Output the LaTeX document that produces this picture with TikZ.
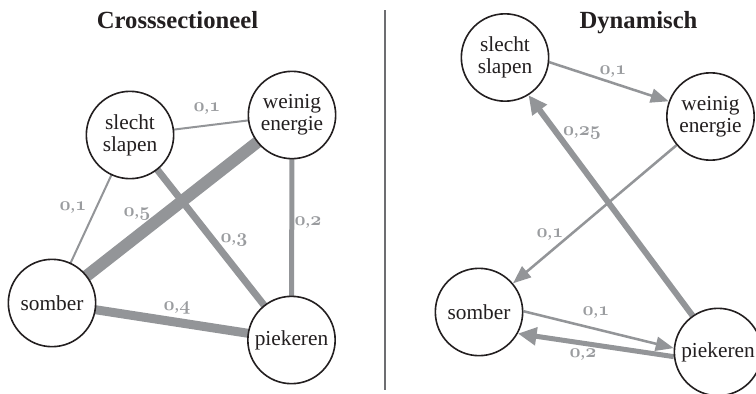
\documentclass[tikz,border=0pt]{standalone}
\usepackage{fontspec}
\setmainfont{Liberation Serif}
\usetikzlibrary{arrows.meta,backgrounds}
\definecolor{edgegray}{HTML}{939598}
\definecolor{labgray}{HTML}{9A9C9F}
\definecolor{ink}{HTML}{231F20}
\definecolor{divgray}{HTML}{6D6E71}
\newcommand\osd[1]{{\usefont{OML}{cmm}{b}{it}#1}}
\newcommand\wt[2]{\osd{#1},\osd{#2}}
\begin{document}
\begin{tikzpicture}[x=0.75pt,y=-0.75pt,
  state/.style={circle,draw=ink,line width=1.2pt,fill=white,minimum size=65.5pt,inner sep=0pt,
    align=center,text=ink,font=\fontsize{16}{16.5}\selectfont},
  paneltitle/.style={anchor=base,text=ink,font=\bfseries\fontsize{18.5}{20}\selectfont},
  wlab/.style={text=labgray,font=\fontsize{14}{16}\selectfont,inner sep=0pt},
  edge/.style={draw=edgegray,line cap=butt},
  thinarrow/.style={edge,line width=1.9pt,-{Triangle[length=13.5pt,width=10.5pt]}},
  thickarrow/.style={edge,-{Triangle[length=14pt,width=13pt]}}
]
\useasboundingbox (0,0) rectangle (756,393);

% titles
\node[paneltitle] (t1) at (177.5,28) {Crosssectioneel};
\node[paneltitle] (t2) at (638.5,28) {Dynamisch};

% divider
\coordinate (d1) at (385,10);
\coordinate (d2) at (385,390);
\draw[divgray,line width=1.1pt] (d1) -- (d2);

% left panel nodes
\node[state] (LS) at (130,135) {slecht\\slapen};
\node[state] (LW) at (292,115) {weinig\\energie};
\node[state] (LB) at (52,303) {somber};
\node[state] (LP) at (291.5,340) {piekeren};

% right panel nodes
\node[state] (RS) at (505,57.5) {slecht\\slapen};
\node[state] (RW) at (710.5,116.5) {weinig\\energie};
\node[state] (RB) at (479,312) {somber};
\node[state] (RP) at (718,352) {piekeren};

\begin{scope}[on background layer]
  % left undirected edges
  \draw[edge,line width=1.5pt] (LS.center) -- (LW.center);
  \draw[edge,line width=1.5pt] (LS.center) -- (LB.center);
  \draw[edge,line width=9pt] (LW.center) -- (LB.center);
  \draw[edge,line width=5.25pt] (LS.center) -- (LP.center);
  \draw[edge,line width=3.75pt] (LW.center) -- (LP.center);
  \draw[edge,line width=6.75pt] (LB.center) -- (LP.center);
  % right directed edges
  \draw[thinarrow] (RS.-6) -- (RW.160);
  \draw[thinarrow] (RW) -- (RB);
  \draw[thickarrow,line width=4.5pt] (RP.125) -- (RS.-58);
  \draw[thinarrow] (RB.1) -- (RP.175);
  \draw[thickarrow,line width=3.75pt] (RP.186) -- (RB.-29);
\end{scope}

% weight labels left
\node[wlab] (l1) at (207,109) {\wt{0}{1}};
\node[wlab] (l2) at (73,208) {\wt{0}{1}};
\node[wlab] (l3) at (137,214) {\wt{0}{5}};
\node[wlab] (l4) at (234,240) {\wt{0}{3}};
\node[wlab] (l5) at (308,223) {\wt{0}{2}};
\node[wlab] (l6) at (177,308) {\wt{0}{4}};

% weight labels right
\node[wlab] (r1) at (613,72) {\wt{0}{1}};
\node[wlab] (r2) at (582,133) {\wt{0}{25}};
\node[wlab] (r3) at (550,235) {\wt{0}{1}};
\node[wlab] (r4) at (596,313) {\wt{0}{1}};
\node[wlab] (r5) at (583,355) {\wt{0}{2}};
\end{tikzpicture}
\end{document}
